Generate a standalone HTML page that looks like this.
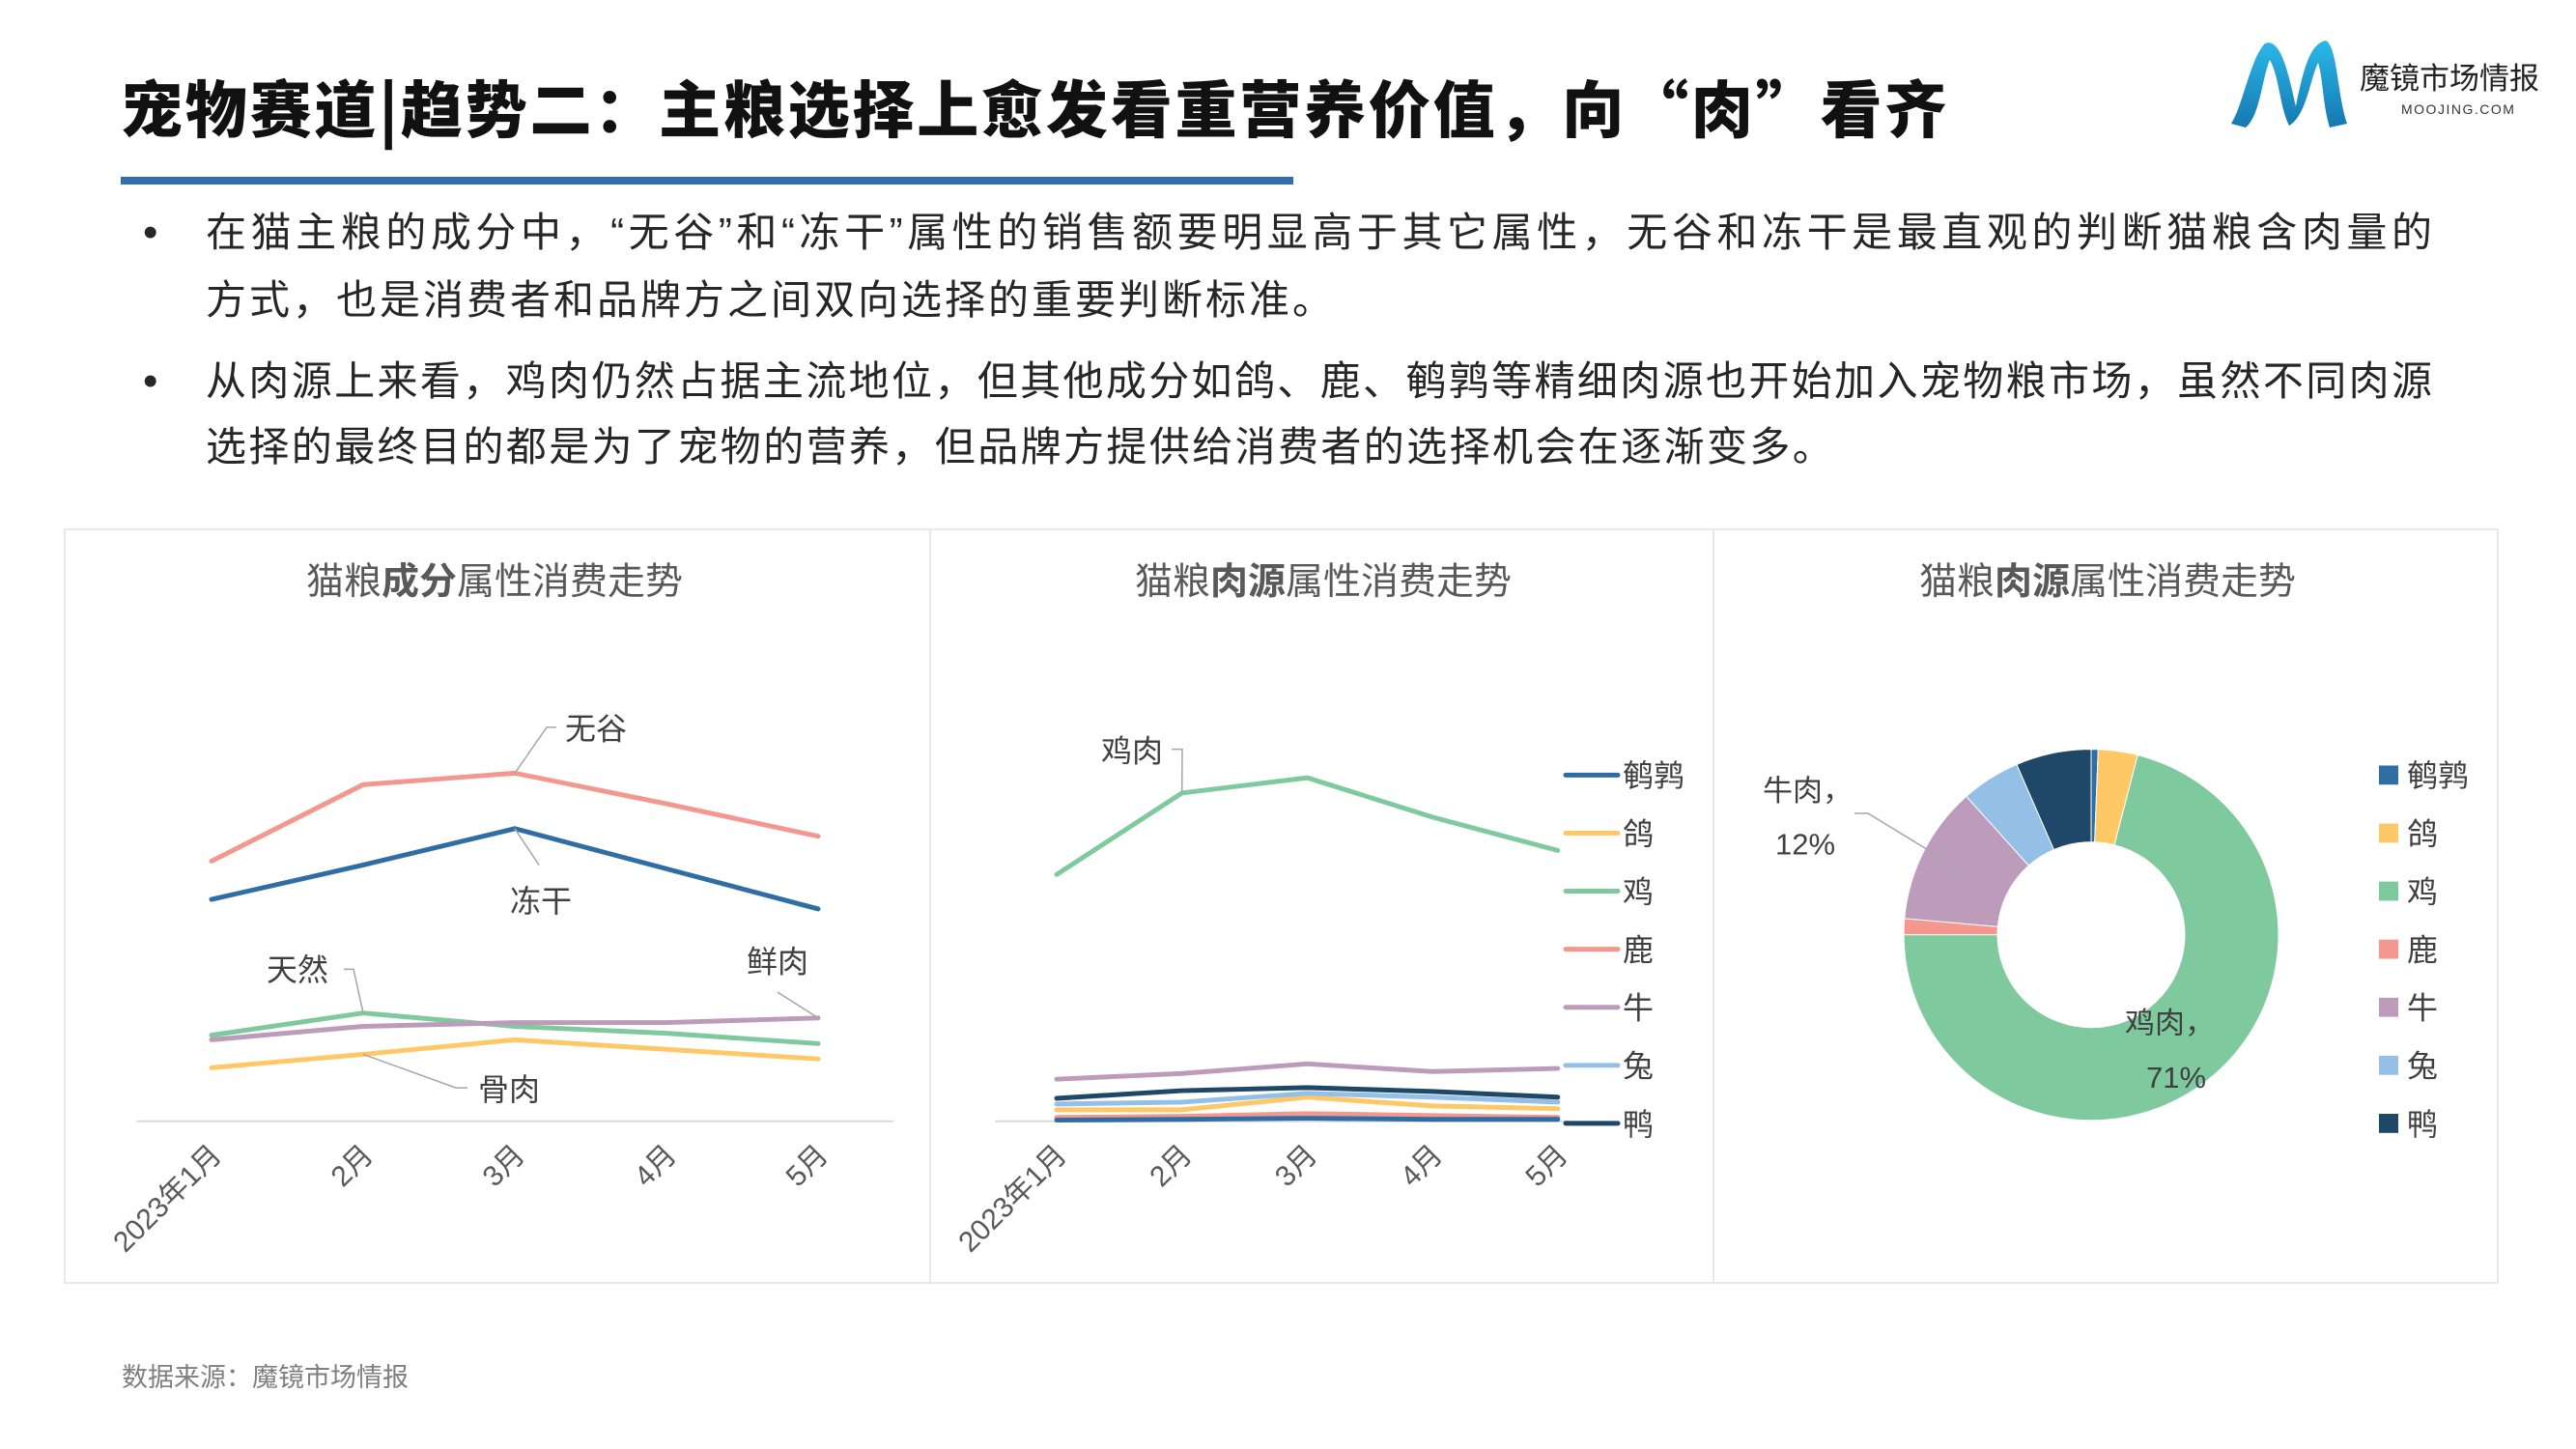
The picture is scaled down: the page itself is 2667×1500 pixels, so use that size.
<!DOCTYPE html>
<html><head><meta charset="utf-8"><style>
html,body{margin:0;padding:0;background:#fff;}
svg{display:block;}
text{font-family:"Liberation Sans","Noto Sans CJK SC",sans-serif;}
.cjk{font-family:"Noto Sans CJK SC","Liberation Sans",sans-serif;}
</style></head><body>
<svg id="page" width="2667" height="1500" viewBox="0 0 2667 1500" xmlns="http://www.w3.org/2000/svg">
<defs>
<linearGradient id="mg" x1="0" y1="0" x2="0" y2="1"><stop offset="0" stop-color="#2bb8e8"/><stop offset="1" stop-color="#1578b0"/></linearGradient>
</defs>
<text class="cjk" x="125" y="137" font-size="64" font-weight="900" fill="#111" letter-spacing="2.8">宠物赛道|趋势二：主粮选择上愈发看重营养价值，向“肉”看齐</text>
<rect x="125" y="183" width="1214" height="8" fill="#2f6fb0"/>
<g>
<path d="M2310 128 C2322 110 2330 60 2345 45 C2362 38 2370 80 2377 110 C2385 70 2392 45 2408 42 C2420 48 2420 100 2430 128 L2412 132 C2405 110 2405 80 2400 65 C2392 80 2388 120 2370 130 C2360 110 2360 80 2350 62 C2342 80 2340 120 2325 132 Z" fill="url(#mg)"/>
<text x="2443" y="92" font-size="31" fill="#222">魔镜市场情报</text>
<text x="2486" y="118" font-size="14" fill="#333" letter-spacing="1.5">MOOJING.COM</text>
</g>
<g class="cjk" font-size="42" fill="#262626">
<text x="148" y="255" font-size="44">•</text>
<text x="213" y="255" textLength="2305" lengthAdjust="spacing">在猫主粮的成分中，“无谷”和“冻干”属性的销售额要明显高于其它属性，无谷和冻干是最直观的判断猫粮含肉量的</text>
<text x="213" y="325" letter-spacing="3">方式，也是消费者和品牌方之间双向选择的重要判断标准。</text>
<text x="148" y="409" font-size="44">•</text>
<text x="213" y="409" textLength="2305" lengthAdjust="spacing">从肉源上来看，鸡肉仍然占据主流地位，但其他成分如鸽、鹿、鹌鹑等精细肉源也开始加入宠物粮市场，虽然不同肉源</text>
<text x="213" y="477" letter-spacing="2.4">选择的最终目的都是为了宠物的营养，但品牌方提供给消费者的选择机会在逐渐变多。</text>
</g>
<g transform="translate(0,5.4) scale(1,0.99)">
<g fill="none" stroke="#e8e8e8" stroke-width="2">
<rect x="67" y="548" width="896" height="788"/>
<rect x="963" y="548" width="811" height="788"/>
<rect x="1774" y="548" width="812" height="788"/>
</g>
<g id="c1"></g>
<g id="c2"></g>
<g id="c3"></g>
</g>
<text x="126" y="1435" font-size="27" fill="#7f7f7f">数据来源：魔镜市场情报</text>
</svg>
<script>
const months = ['2023年1月','2月','3月','4月','5月'];
// chart 1 series (ingredient attributes)
const c1Names = ['无谷','冻干','天然','鲜肉','骨肉'];
const c1Wugu = [68,88,91,83,74.5];
const c1Dongan = [58,67,76.5,66,55.5];
const c1Tianran = [22.5,28.3,24.8,23,20.3];
const c1Xianrou = [21.3,24.8,25.8,25.8,27];
const c1Gurou = [14,17.5,21.3,18.8,16.3];
// chart 2 series (meat sources)
const c2Names = ['鹌鹑','鸽','鸡','鹿','牛','兔','鸭'];
const c2Anchun = [0.3,0.5,0.8,0.5,0.5];
const c2Ge = [3,3,6.3,4,3.3];
const c2Ji = [64.5,85.8,89.8,79.5,70.8];
const c2Lu = [1,1.3,2,1.5,1];
const c2Niu = [11,12.5,15,13,13.8];
const c2Tu = [4.5,5,7.3,6.3,5];
const c2Ya = [6,8,8.8,7.8,6.3];
// chart 3 shares (%)
const c3Names = ['鹌鹑','鸽','鸡','鹿','牛','兔','鸭'];
const c3Shares = [0.6,3.4,71,1.4,12,5.1,6.5];

const NS='http://www.w3.org/2000/svg';
function mk(tag,attrs,parent,txt){const e=document.createElementNS(NS,tag);for(const k in attrs)e.setAttribute(k,attrs[k]);if(txt!==undefined)e.textContent=txt;parent.appendChild(e);return e;}
const colors={salmon:'#f4978e',blue:'#2f6ea5',green:'#7ec99d',purple:'#bd9cbb',yellow:'#fdc865',light:'#94c0e8',navy:'#1f4868'};
function yS(v){return 1167 - v*4;}

function titleText(g,cx,plain1,bold,plain2){
  const t=mk('text',{x:cx,y:616,'font-size':39,fill:'#595959','text-anchor':'middle'},g);
  
  
  mk('tspan',{},t,plain1);mk('tspan',{'font-weight':'bold'},t,bold);mk('tspan',{},t,plain2);
}
function xLabels(g,xs){
  months.forEach((m,i)=>{
    const x=xs(i)+12,y=1204;
    const t=mk('text',{x:x,y:y,'font-size':30,fill:'#595959','text-anchor':'end',transform:`rotate(-45 ${x} ${y})`},g,m);
    
    
  });
}
function line(g,xs,vals,color,name){
  const d=vals.map((v,i)=>(i?'L':'M')+xs(i).toFixed(1)+' '+yS(v).toFixed(1)).join(' ');
  const p=mk('path',{d:d,fill:'none',stroke:color,'stroke-width':5,'stroke-linejoin':'round','stroke-linecap':'round'},g);
  
  
  return p;
}
function leader(g,pts){
  const p=mk('polyline',{points:pts.map(q=>q.join(',')).join(' '),fill:'none',stroke:'#a6a6a6','stroke-width':1.5},g);
  
  
}
function lbl(g,x,y,s,name,size){
  const t=mk('text',{x:x,y:y,'font-size':size||32,fill:'#404040'},g,s);
  
  
}

// ---- chart 1
(function(){
  const g=document.getElementById('c1');
  const xs=i=>219+i*157;
  titleText(g,512,'猫粮','成分','属性消费走势');
  const ax=mk('line',{x1:141,y1:1167,x2:925,y2:1167,stroke:'#d9d9d9','stroke-width':2},g);
  
  
  xLabels(g,xs);
  line(g,xs,c1Wugu,colors.salmon,'line-wugu');
  line(g,xs,c1Dongan,colors.blue,'line-dongan');
  line(g,xs,c1Tianran,colors.green,'line-tianran');
  line(g,xs,c1Xianrou,colors.purple,'line-xianrou');
  line(g,xs,c1Gurou,colors.yellow,'line-gurou');
  leader(g,[[xs(2),yS(c1Wugu[2])],[566,755],[576,755]]);
  lbl(g,585,768,c1Names[0],'label-wugu');
  leader(g,[[xs(2),yS(c1Dongan[2])],[558,899]]);
  lbl(g,528,948,c1Names[1],'label-dongan');
  leader(g,[[xs(1),yS(c1Tianran[1])],[366,1008],[356,1008]]);
  lbl(g,276,1020,c1Names[2],'label-tianran');
  leader(g,[[xs(4),yS(c1Xianrou[4])],[805,1032]]);
  lbl(g,773,1011,c1Names[3],'label-xianrou');
  leader(g,[[xs(1),yS(c1Gurou[1])],[472,1132],[484,1132]]);
  lbl(g,495,1145,c1Names[4],'label-gurou');
})();

// ---- chart 2
(function(){
  const g=document.getElementById('c2');
  const xs=i=>1094+i*129.7;
  titleText(g,1370,'猫粮','肉源','属性消费走势');
  const ax=mk('line',{x1:1030,y1:1167,x2:1625,y2:1167,stroke:'#d9d9d9','stroke-width':2},g);
  
  
  xLabels(g,xs);
  const series=[c2Anchun,c2Ge,c2Ji,c2Lu,c2Niu,c2Tu,c2Ya];
  const cols=[colors.blue,colors.yellow,colors.green,colors.salmon,colors.purple,colors.light,colors.navy];
  const order=[3,0,1,5,6,4,2];
  order.forEach(k=>line(g,xs,series[k],cols[k],'line-'+c2Names[k]));
  leader(g,[[xs(1),yS(c2Ji[1])],[1224,778],[1213,778]]);
  lbl(g,1140,791,'鸡肉','label-chicken');
  c2Names.forEach((n,i)=>{
    const y=805+i*60.7;
    const l=mk('line',{x1:1621,y1:y,x2:1675,y2:y,stroke:cols[i],'stroke-width':5,'stroke-linecap':'round'},g);
    
    
    lbl(g,1680,y+12,n,'legend-entry');
  });
})();

// ---- chart 3 donut
(function(){
  const g=document.getElementById('c3');
  titleText(g,2182,'猫粮','肉源','属性消费走势');
  const cx=2165,cy=972,R=194,r=97;
  const cols=[colors.blue,colors.yellow,colors.green,colors.salmon,colors.purple,colors.light,colors.navy];
  const total=c3Shares.reduce((a,b)=>a+b,0);
  let a0=0;
  c3Shares.forEach((s,i)=>{
    const a1=a0+s/total*Math.PI*2;
    const P=(rad,a)=>[cx+rad*Math.sin(a),cy-rad*Math.cos(a)];
    const large=(a1-a0)>Math.PI?1:0;
    const [x0,y0]=P(R,a0),[x1,y1]=P(R,a1),[x2,y2]=P(r,a1),[x3,y3]=P(r,a0);
    const p=mk('path',{d:`M${x0} ${y0} A${R} ${R} 0 ${large} 1 ${x1} ${y1} L${x2} ${y2} A${r} ${r} 0 ${large} 0 ${x3} ${y3} Z`,fill:cols[i],stroke:'#fff','stroke-width':1},g);
    
    
    a0=a1;
  });
  leader(g,[[1920,845],[1934,845],[2033,906]]);
  lbl(g,1825,832,'牛肉，','label-beef-name',31);
  lbl(g,1838,888,c3Shares[4].toFixed(0)+'%','label-beef-pct',31);
  lbl(g,2200,1075,'鸡肉，','label-chicken-name',31);
  lbl(g,2222,1132,c3Shares[2].toFixed(0)+'%','label-chicken-pct',31);
  c3Names.forEach((n,i)=>{
    const y=805+i*60.7;
    const q=mk('rect',{x:2463,y:y-10,width:20,height:20,fill:cols[i]},g);
    
    
    lbl(g,2492,y+12,n,'legend-entry');
  });
})();
</script>
</body></html>
